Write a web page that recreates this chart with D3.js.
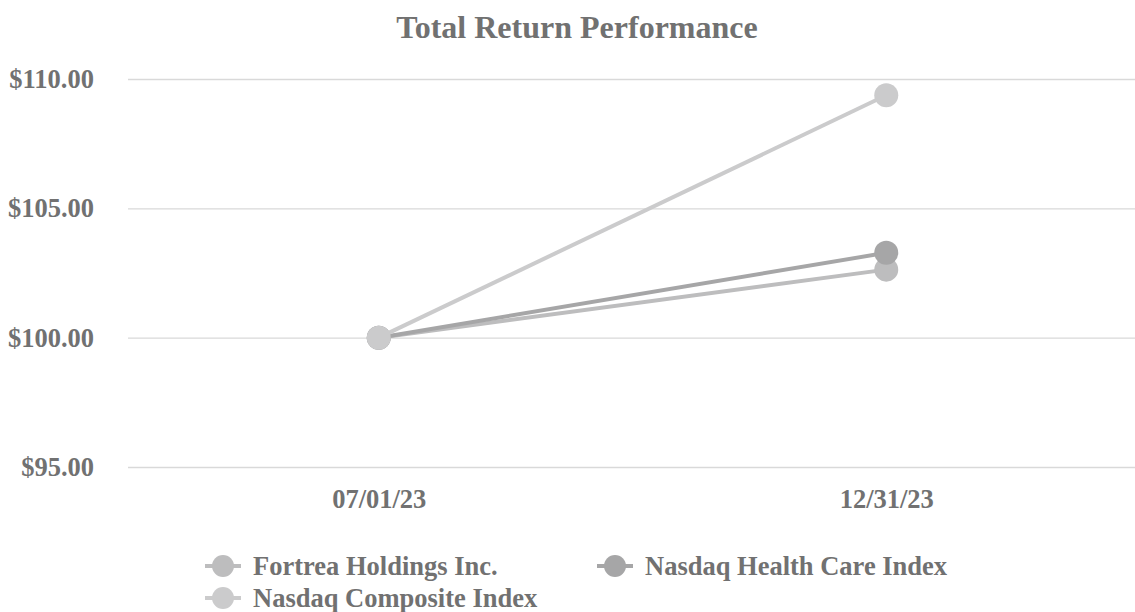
<!DOCTYPE html>
<html>
<head>
<meta charset="utf-8">
<script src="https://cdn.jsdelivr.net/npm/d3@7"></script>
<style>
  body { margin: 0; background: #fff; }
  text { font-family: "Liberation Serif", "Times New Roman", serif; font-weight: bold; fill: #717171; }
</style>
</head>
<body>
<svg id="chart" width="1135" height="612"></svg>
<script>
const DATES = ["07/01/23", "12/31/23"];
const SERIES_NAMES = ["Fortrea Holdings Inc.", "Nasdaq Health Care Index", "Nasdaq Composite Index"];
const FORTREA = [100.00, 102.63];
const HEALTH_CARE = [100.00, 103.28];
const COMPOSITE = [100.00, 109.37];
const Y_TICKS = [95, 100, 105, 110];
const COLORS = ["#bdbdbe", "#a6a6a7", "#cbcbcc"];

const WIDTH = 1135, HEIGHT = 612;
const svg = d3.select("#chart");

let series = [FORTREA, HEALTH_CARE, COMPOSITE].map((vals, i) => ({
  name: SERIES_NAMES[i], color: COLORS[i],
  points: vals.map((v, j) => ({date: DATES[j], value: v}))
}));

let x = d3.scalePoint().domain(DATES).range([125, 1140]).padding(0.5);
let y = d3.scaleLinear().domain([95, 110]).range([467, 79]);

// title
svg.append("text")
  .attr("x", 577).attr("y", 38)
  .attr("text-anchor", "middle")
  .attr("font-size", "32px")
  .text("Total Return Performance");

// gridlines + y labels
let yAxis = d3.axisLeft(y).tickValues(Y_TICKS).tickSize(-(1135 - 128))
  .tickFormat(d => "$" + d3.format(".2f")(d));
let gy = svg.append("g").attr("transform", "translate(128,0)").call(yAxis);
gy.select(".domain").remove();
gy.selectAll(".tick line").attr("stroke", "#d9d9d9").attr("stroke-width", 1.3);
gy.selectAll(".tick text")
  .attr("x", -34).attr("dy", "0.32em")
  .attr("font-size", "26.5px").attr("fill", "#717171")
  .attr("font-family", "Liberation Serif").attr("font-weight", "bold");

// x labels
let xAxis = d3.axisBottom(x).tickSize(0);
let gx = svg.append("g").attr("transform", "translate(0,499)").call(xAxis);
gx.select(".domain").remove();
gx.selectAll(".tick text")
  .attr("y", 0).attr("dy", "0.33em")
  .attr("font-size", "26.5px").attr("fill", "#717171")
  .attr("font-family", "Liberation Serif").attr("font-weight", "bold");

// lines + markers
let line = d3.line().x(d => x(d.date)).y(d => y(d.value));
let g = svg.selectAll(".series").data(series).enter().append("g").attr("class", "series");
g.append("path")
  .attr("d", d => line(d.points))
  .attr("fill", "none")
  .attr("stroke", d => d.color)
  .attr("stroke-width", 4);
g.selectAll("circle").data(d => d.points.map(p => ({...p, color: d.color}))).enter()
  .append("circle")
  .attr("cx", d => x(d.date)).attr("cy", d => y(d.value))
  .attr("r", 12)
  .attr("fill", d => d.color);

// legend
const LEGEND_POS = [[205, 566], [597, 566], [205, 598]];
let leg = svg.selectAll(".legend").data(series).enter().append("g")
  .attr("class", "legend")
  .attr("transform", (d, i) => `translate(${LEGEND_POS[i][0]},${LEGEND_POS[i][1]})`);
leg.append("line").attr("x1", 0).attr("x2", 36).attr("y1", 0).attr("y2", 0)
  .attr("stroke", d => d.color).attr("stroke-width", 4);
leg.append("circle").attr("cx", 18).attr("cy", 0).attr("r", 11).attr("fill", d => d.color);
leg.append("text").attr("x", 48).attr("y", 0).attr("dy", "0.33em")
  .attr("font-size", "26.5px").text(d => d.name);
</script>
</body>
</html>
